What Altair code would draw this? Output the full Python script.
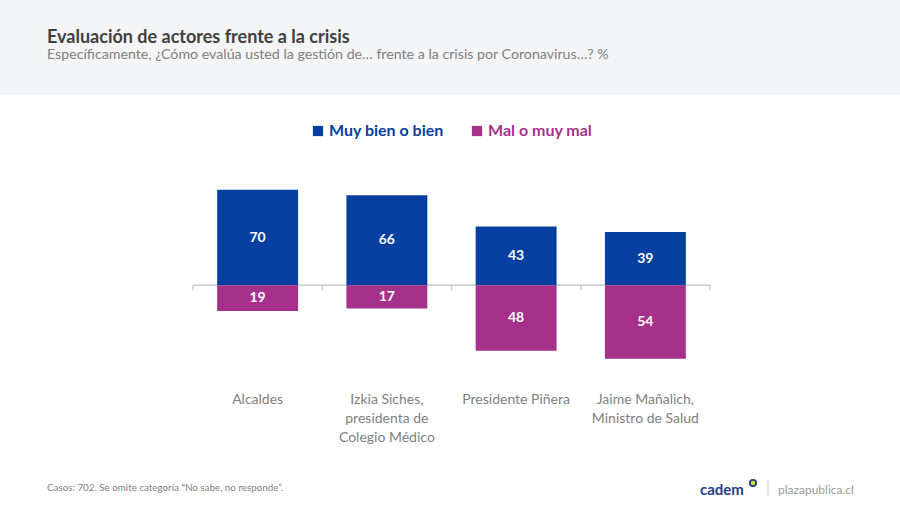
import altair as alt
import pandas as pd

# ---- data ----
categories = [
    "Alcaldes",
    "Izkia Siches,\npresidenta de\nColegio Médico",
    "Presidente Piñera",
    "Jaime Mañalich,\nMinistro de Salud",
]
muy_bien = [70, 66, 43, 39]
mal = [19, 17, 48, 54]
series = ["Muy bien o bien", "Mal o muy mal"]
colors = ["#0540a0", "#a5318a"]

title_text = "Evaluación de actores frente a la crisis"
subtitle_text = "Específicamente, ¿Cómo evalúa usted la gestión de… frente a la crisis por Coronavirus…? %"
footer_text = "Casos: 702. Se omite categoría “No sabe, no responde”."
brand_text = "cadem"
site_text = "plazapublica.cl"

rows = []
for c, b, m in zip(categories, muy_bien, mal):
    rows.append({"cat": c, "series": series[0], "value": b, "signed": b, "mid": b / 2})
    rows.append({"cat": c, "series": series[1], "value": m, "signed": -m, "mid": -m / 2})
df = pd.DataFrame(rows)
cat_df = pd.DataFrame({"cat": categories})
last_df = pd.DataFrame({"cat": categories[-1:]})

FONT = "Lato"
W = 517
P_IN, P_OUT = 0.374, 0.187
xscale = alt.Scale(paddingInner=P_IN, paddingOuter=P_OUT)
yscale = alt.Scale(domain=[-60, 75], nice=False, zero=True)
STEP = W / (len(categories) - P_IN + 2 * P_OUT)
HALF_GAP = STEP * P_IN / 2

header = alt.Chart(alt.Data(values=[{}])).mark_rect(color="#f4f5f7").encode(
    x=alt.value(-193), x2=alt.value(707), y=alt.value(-183), y2=alt.value(-88)
)

bars = alt.Chart(df).mark_bar().encode(
    x=alt.X(
        "cat:N",
        sort=categories,
        scale=xscale,
        axis=alt.Axis(
            orient="bottom",
            offset=-82.3,
            labels=False,
            ticks=False,
            title=None,
            domainColor="#bfbfbf",
            domainWidth=1.2,
            zindex=0,
        ),
    ),
    y=alt.Y("signed:Q", scale=yscale, axis=None),
    color=alt.Color(
        "series:N",
        scale=alt.Scale(domain=series, range=colors),
        sort=series,
        legend=alt.Legend(
            orient="none",
            legendX=117,
            legendY=-60,
            direction="horizontal",
            title=None,
            symbolType="square",
            symbolSize=105,
            symbolStrokeWidth=0,
            symbolOpacity=1,
            labelFont=FONT,
            labelFontWeight="bold",
            labelFontSize=16,
            labelColor={"expr": "datum.label == 'Muy bien o bien' ? '#0540a0' : '#a5318a'"},
            columnPadding=25,
            labelOffset=3,
            padding=0,
        ),
    ),
)

ticks_start = alt.Chart(cat_df).mark_rule(
    color="#bfbfbf", strokeWidth=1.2, xOffset=-HALF_GAP
).encode(
    x=alt.X("cat:N", sort=categories, scale=xscale, bandPosition=0, axis=None),
    y=alt.Y(datum=0, scale=yscale, axis=None),
    y2=alt.Y2(datum=-3.7),
)
ticks_end = alt.Chart(last_df).mark_rule(
    color="#bfbfbf", strokeWidth=1.2, xOffset=HALF_GAP
).encode(
    x=alt.X("cat:N", sort=categories, scale=xscale, bandPosition=1, axis=None),
    y=alt.Y(datum=0, scale=yscale, axis=None),
    y2=alt.Y2(datum=-3.7),
)

values = alt.Chart(df).mark_text(
    color="white", font=FONT, fontWeight="bold", fontSize=14, baseline="middle"
).encode(
    x=alt.X(
        "cat:N",
        sort=categories,
        scale=xscale,
        axis=alt.Axis(
            orient="bottom",
            domain=False,
            ticks=False,
            title=None,
            labelExpr="split(datum.label, '\\n')",
            labelFont=FONT,
            labelFontSize=14,
            labelColor="#7f7f7f",
            labelPadding=25,
            labelLineHeight=19,
            labelAngle=0,
            labelOverlap=False,
            labelLimit=200,
        ),
    ),
    y=alt.Y("mid:Q", scale=yscale, axis=None),
    text=alt.Text("value:Q"),
)

footer = alt.Chart(alt.Data(values=[{"t": footer_text}])).mark_text(
    align="left", baseline="middle", font=FONT, fontSize=9.8, color="#7f7f7f"
).encode(x=alt.value(-146), y=alt.value(305), text="t:N")

brand = alt.Chart(alt.Data(values=[{"t": brand_text}])).mark_text(
    align="left", baseline="middle", font=FONT, fontSize=15, fontWeight="bold", color="#24408e"
).encode(x=alt.value(507), y=alt.value(307), text="t:N")

ring = alt.Chart(alt.Data(values=[{}])).mark_point(
    shape="circle", size=40, filled=False, stroke="#24408e", strokeWidth=1.8, fill="#d6df22", fillOpacity=1
).encode(x=alt.value(560), y=alt.value(300))

sep = alt.Chart(alt.Data(values=[{}])).mark_rule(color="#cccccc", strokeWidth=1).encode(
    x=alt.value(575), y=alt.value(297), y2=alt.value(313)
)

site = alt.Chart(alt.Data(values=[{"t": site_text}])).mark_text(
    align="left", baseline="middle", font=FONT, fontSize=12, color="#9a9a9a"
).encode(x=alt.value(585), y=alt.value(307), text="t:N")

chart = (
    alt.layer(header, bars, ticks_start, ticks_end, values, footer, brand, ring, sep, site)
    .resolve_axis(x="independent")
    .properties(
        width=W,
        height=184,
        autosize=alt.AutoSizeParams(type="none"),
        padding={"left": 193, "top": 183, "right": 190, "bottom": 143},
        background="white",
        title=alt.TitleParams(
            text=title_text,
            subtitle=subtitle_text,
            anchor="start",
            frame="group",
            dx=-146,
            offset=-62,
            font=FONT,
            fontSize=18,
            fontWeight="bold",
            color="#404040",
            subtitleFont=FONT,
            subtitleFontSize=14.2,
            subtitleColor="#808080",
            subtitlePadding=1,
            zindex=1,
        ),
    )
    .configure_view(strokeWidth=0)
)

chart.save("out.html", embed_options={"renderer": "svg", "actions": False})
